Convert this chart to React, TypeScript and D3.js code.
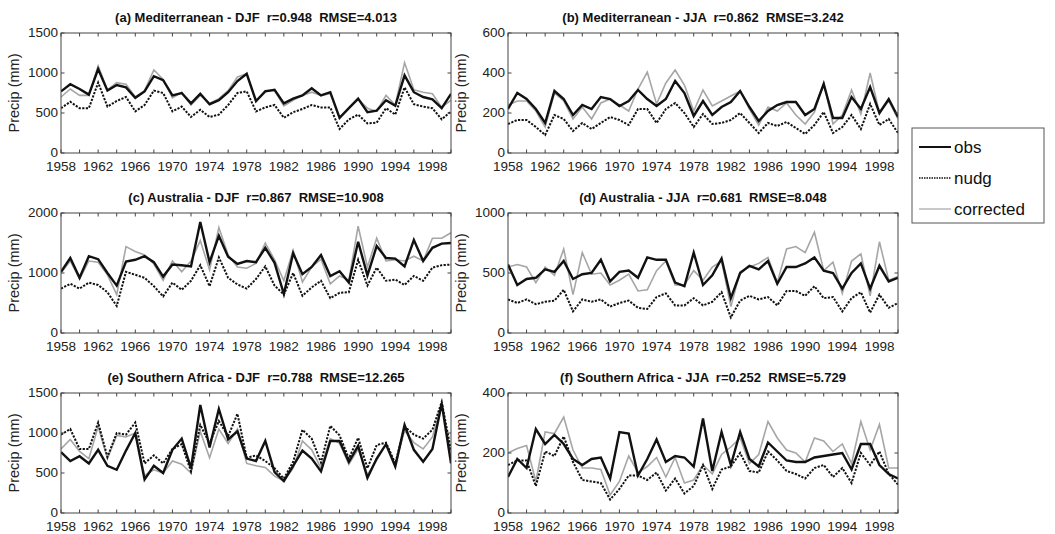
import React from 'react';
import * as d3 from 'd3';

// x axis: one value per year
const years = d3.range(1958, 2001);
const xTickLabels = [1958, 1962, 1966, 1970, 1974, 1978, 1982, 1986, 1990, 1994, 1998];

// (a) Mediterranean DJF
const medDjfObs = [770, 860, 800, 730, 1050, 780, 850, 820, 690, 770, 960, 910, 720, 750, 620, 740, 610, 660, 760, 900, 990, 650, 770, 790, 620, 680, 720, 810, 720, 760, 440, 560, 680, 510, 530, 660, 590, 970, 760, 700, 670, 560, 740];
const medDjfNudg = [560, 640, 560, 560, 880, 580, 650, 700, 520, 600, 780, 750, 520, 580, 450, 540, 450, 480, 600, 750, 770, 520, 570, 600, 440, 510, 550, 600, 570, 570, 300, 420, 480, 370, 380, 560, 480, 820, 610, 580, 560, 420, 520];
const medDjfCorr = [700, 800, 720, 720, 1090, 790, 880, 860, 700, 780, 1040, 920, 690, 760, 600, 720, 620, 680, 780, 950, 990, 640, 780, 780, 590, 660, 720, 760, 720, 740, 430, 560, 670, 560, 520, 720, 600, 1130, 790, 760, 740, 570, 660];

// (b) Mediterranean JJA
const medJjaObs = [220, 300, 270, 220, 150, 310, 270, 190, 240, 220, 280, 270, 235, 260, 315, 270, 235, 270, 360, 300, 185, 260, 190, 230, 255, 310, 230, 160, 210, 240, 255, 255, 190, 220, 345, 175, 175, 280, 220, 330, 200, 270, 180];
const medJjaNudg = [145, 165, 165, 130, 90, 190, 170, 110, 150, 120, 150, 180, 165, 140, 220, 220, 150, 220, 250, 200, 130, 195, 145, 150, 165, 200, 150, 100, 150, 135, 155, 125, 95, 140, 205, 100, 130, 190, 120, 245, 140, 170, 100];
const medJjaCorr = [240, 260, 260, 210, 130, 300, 260, 170, 230, 170, 250, 270, 240, 210, 320, 405, 245, 350, 415, 340, 210, 315, 235, 260, 285, 310, 220, 140, 230, 210, 250, 190, 145, 205, 350, 145, 190, 315, 195, 400, 200, 260, 170];

// (c) Australia DJF
const ausDjfObs = [1020, 1250, 920, 1280, 1230, 1000, 790, 1190, 1220, 1280, 1180, 940, 1140, 1130, 1110, 1850, 1180, 1620, 1270, 1150, 1200, 1180, 1420, 1170, 650, 1330, 980, 1100, 1300, 950, 1030, 840, 1520, 960, 1450, 1250, 1240, 1110, 1550, 1200, 1420, 1490, 1500];
const ausDjfNudg = [740, 820, 740, 840, 800, 680, 450, 1020, 970, 920, 780, 610, 840, 720, 870, 1130, 780, 1260, 920, 810, 740, 900, 1110, 790, 640, 1000, 620, 760, 870, 580, 670, 680, 1220, 790, 1090, 870, 890, 800, 950, 870, 1090, 1130, 1140];
const ausDjfCorr = [1000, 1200, 900, 1200, 1180, 970, 640, 1440, 1360, 1300, 1150, 880, 1200, 1020, 1200, 1540, 1050, 1760, 1300, 1100, 1080, 1160, 1500, 1220, 870, 1380, 850, 1100, 1230, 820, 950, 880, 1780, 1100, 1580, 1200, 1220, 1200, 1280, 1200, 1580, 1580, 1670];

// (d) Australia JJA
const ausJjaObs = [570, 400, 450, 460, 530, 510, 600, 450, 490, 500, 610, 430, 510, 520, 460, 630, 610, 610, 420, 390, 670, 400, 480, 620, 290, 500, 560, 530, 600, 410, 550, 550, 580, 630, 520, 500, 370, 500, 580, 370, 560, 430, 460];
const ausJjaNudg = [280, 250, 280, 240, 260, 270, 360, 180, 280, 260, 280, 220, 250, 270, 210, 200, 300, 330, 230, 230, 290, 230, 260, 340, 130, 270, 310, 280, 300, 230, 350, 350, 310, 390, 290, 300, 180, 290, 340, 170, 320, 210, 250];
const ausJjaCorr = [550, 570, 550, 420, 550, 480, 700, 320, 670, 490, 500, 400, 440, 490, 350, 360, 520, 600, 400, 400, 520, 440, 550, 600, 220, 510, 550, 580, 630, 420, 700, 720, 670, 840, 520, 590, 330, 600, 660, 310, 760, 440, 470];

// (e) Southern Africa DJF
const safDjfObs = [760, 650, 710, 620, 790, 590, 540, 780, 1000, 420, 590, 500, 790, 930, 560, 1350, 820, 1300, 920, 1020, 680, 650, 900, 510, 400, 590, 780, 680, 520, 900, 900, 640, 840, 440, 680, 860, 580, 1100, 790, 640, 800, 1370, 620];
const safDjfNudg = [980, 1050, 800, 800, 1130, 700, 1000, 980, 1130, 620, 720, 620, 800, 860, 520, 1100, 870, 1150, 960, 1240, 690, 720, 650, 560, 430, 640, 1040, 930, 630, 1090, 970, 680, 940, 560, 850, 880, 620, 1080, 980, 930, 1040, 1390, 780];
const safDjfCorr = [800, 920, 770, 680, 1080, 680, 970, 950, 1000, 470, 540, 500, 650, 610, 500, 1020, 690, 1050, 870, 1050, 620, 590, 570, 460, 400, 560, 900, 790, 560, 930, 870, 610, 800, 480, 660, 860, 600, 1030, 880, 800, 950, 1350, 720];

// (f) Southern Africa JJA
const safJjaObs = [120, 180, 150, 280, 230, 260, 230, 180, 160, 180, 185, 115, 270, 265, 125, 180, 245, 170, 190, 185, 155, 315, 140, 270, 160, 270, 180, 155, 235, 205, 175, 170, 170, 185, 190, 195, 200, 145, 230, 230, 160, 130, 115];
const safJjaNudg = [160, 175, 175, 90, 205, 190, 255, 170, 110, 105, 100, 45, 80, 125, 125, 110, 135, 75, 115, 65, 90, 160, 80, 145, 155, 200, 140, 135, 205, 175, 140, 130, 115, 150, 160, 120, 150, 100, 200, 160, 205, 130, 95];
const safJjaCorr = [200, 215, 225, 105, 270, 265, 320, 210, 150, 150, 145, 60, 105, 190, 135, 155, 185, 120, 185, 100, 110, 160, 130, 195, 220, 250, 165, 195, 305, 250, 210, 200, 170, 250, 240, 205, 230, 165, 305, 210, 295, 150, 150];

const titles = [
  '(a) Mediterranean - DJF  r=0.948  RMSE=4.013',
  '(b) Mediterranean - JJA  r=0.862  RMSE=3.242',
  '(c) Australia - DJF  r=0.867  RMSE=10.908',
  '(d) Australia - JJA  r=0.681  RMSE=8.048',
  '(e) Southern Africa - DJF  r=0.788  RMSE=12.265',
  '(f) Southern Africa - JJA  r=0.252  RMSE=5.729',
];
const yMax = [1500, 600, 2000, 1000, 1500, 400];
const yTickLabels = [
  [0, 500, 1000, 1500],
  [0, 200, 400, 600],
  [0, 1000, 2000],
  [0, 500, 1000],
  [0, 500, 1000, 1500],
  [0, 200, 400],
];
const seriesNames = ['obs', 'nudg', 'corrected'];

const panelData = [
  [medDjfObs, medDjfNudg, medDjfCorr],
  [medJjaObs, medJjaNudg, medJjaCorr],
  [ausDjfObs, ausDjfNudg, ausDjfCorr],
  [ausJjaObs, ausJjaNudg, ausJjaCorr],
  [safDjfObs, safDjfNudg, safDjfCorr],
  [safJjaObs, safJjaNudg, safJjaCorr],
];

const W = 1055;
const H = 534;
const colX = [61, 508];
const plotW = 390;
const rowY = [33, 213, 393];
const plotH = 120;
const font = '"Liberation Sans", Arial, sans-serif';
const axisColor = '#444';

const styles = [
  { stroke: '#111', width: 2.4, dash: undefined as string | undefined },
  { stroke: '#111', width: 2, dash: '2.2,1.4' },
  { stroke: '#a6a6a6', width: 1.6, dash: undefined as string | undefined },
];

function Panel({ i }: { i: number }) {
  const left = colX[i % 2];
  const top = rowY[Math.floor(i / 2)];
  const x = d3.scaleLinear().domain([1958, 2000]).range([0, plotW]);
  const y = d3.scaleLinear().domain([0, yMax[i]]).range([plotH, 0]);
  const line = d3
    .line<number>()
    .x((_, k) => x(years[k]))
    .y((d) => y(d));
  const minorX = d3.range(1958, 2001, 2);
  const tl = 3.5;
  // corrected first, then nudg, obs on top
  const order = [2, 1, 0];
  return (
    <g transform={`translate(${left},${top})`}>
      <text
        x={plotW / 2}
        y={-11}
        textAnchor="middle"
        fontFamily={font}
        fontWeight="bold"
        fontSize={13}
        fill="#111"
        style={{ whiteSpace: 'pre' }}
      >
        {titles[i]}
      </text>
      <clipPath id={`clip${i}`}>
        <rect x={0} y={0} width={plotW} height={plotH} />
      </clipPath>
      <g clipPath={`url(#clip${i})`}>
        {order.map((s) => (
          <path
            key={s}
            d={line(panelData[i][s]) || ''}
            fill="none"
            stroke={styles[s].stroke}
            strokeWidth={styles[s].width}
            strokeDasharray={styles[s].dash}
            strokeLinejoin="miter"
          />
        ))}
      </g>
      <rect x={0} y={0} width={plotW} height={plotH} fill="none" stroke={axisColor} strokeWidth={1} />
      {minorX.map((t) => (
        <g key={t}>
          <line x1={x(t)} x2={x(t)} y1={plotH} y2={plotH - tl} stroke={axisColor} />
          <line x1={x(t)} x2={x(t)} y1={0} y2={tl} stroke={axisColor} />
        </g>
      ))}
      {yTickLabels[i].map((t) => (
        <g key={t}>
          <line x1={0} x2={tl} y1={y(t)} y2={y(t)} stroke={axisColor} />
          <line x1={plotW} x2={plotW - tl} y1={y(t)} y2={y(t)} stroke={axisColor} />
          <text
            x={-3}
            y={y(t)}
            dy="0.3em"
            textAnchor="end"
            fontFamily={font}
            fontSize={13.5}
            fill="#222"
          >
            {t}
          </text>
        </g>
      ))}
      {xTickLabels.map((t) => (
        <text
          key={t}
          x={x(t)}
          y={plotH + 18}
          textAnchor="middle"
          fontFamily={font}
          fontSize={13.5}
          fill="#222"
        >
          {t}
        </text>
      ))}
      <text
        transform={`translate(${-42},${plotH / 2}) rotate(-90)`}
        textAnchor="middle"
        fontFamily={font}
        fontSize={14.5}
        fill="#222"
      >
        Precip (mm)
      </text>
    </g>
  );
}

function Legend() {
  const lx = 912;
  const ly = 128;
  const rowH = 31;
  return (
    <g>
      <rect x={lx} y={ly} width={132} height={95} fill="#fff" stroke="#555" strokeWidth={1} />
      {seriesNames.map((name, k) => {
        const cy = ly + 19 + k * rowH;
        return (
          <g key={name}>
            <line
              x1={lx + 7}
              x2={lx + 39}
              y1={cy}
              y2={cy}
              stroke={styles[k].stroke}
              strokeWidth={k === 2 ? 1.2 : k === 1 ? 1.6 : 2}
              strokeDasharray={k === 1 ? '1.5,1' : undefined}
            />
            <text x={lx + 42} y={cy} dy="0.35em" fontFamily={font} fontSize={17} fill="#111">
              {name}
            </text>
          </g>
        );
      })}
    </g>
  );
}

export default function App() {
  return (
    <div style={{ position: 'absolute', left: 0, top: 0, width: W, height: H, background: '#fff' }}>
      <svg width={W} height={H} style={{ display: 'block' }}>
        <rect width={W} height={H} fill="#fff" />
        {titles.map((_, i) => (
          <Panel key={i} i={i} />
        ))}
        <Legend />
      </svg>
    </div>
  );
}
